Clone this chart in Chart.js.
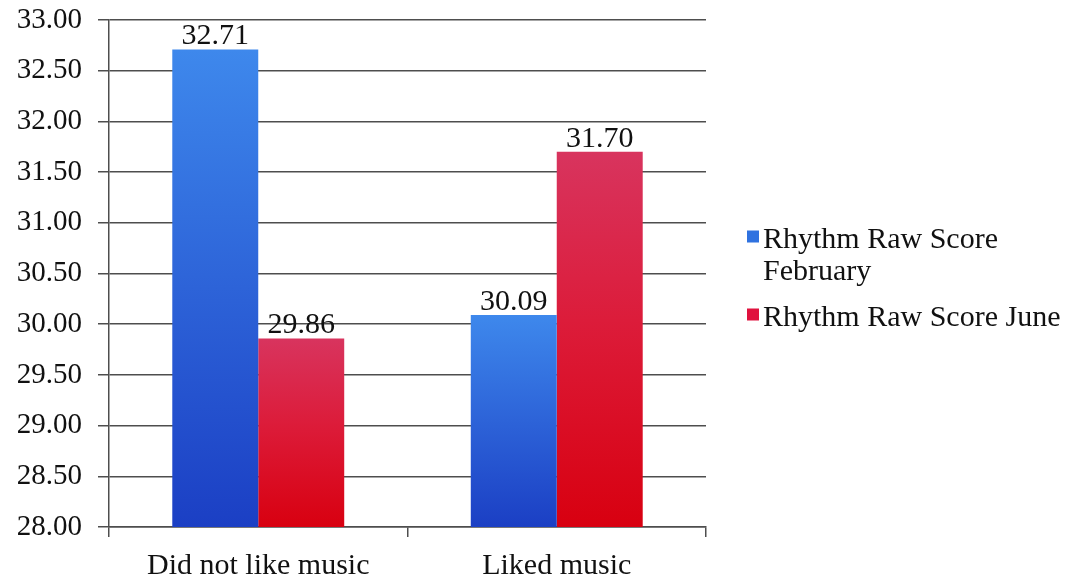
<!DOCTYPE html>
<html>
<head>
<meta charset="utf-8">
<script src="https://cdn.jsdelivr.net/npm/chart.js@4.4.1/dist/chart.umd.min.js"></script>
<style>
  html, body { margin: 0; padding: 0; background: #fff; }
  #wrap { width: 1088px; height: 579px; position: relative; }
</style>
</head>
<body>
<div id="wrap"><canvas id="chart"></canvas></div>
<script>
// --- Chart data ---
const CATEGORIES = ['Did not like music', 'Liked music'];
const SERIES_FEB = ['Rhythm Raw Score', 'February'];
const SERIES_JUNE = 'Rhythm Raw Score June';
const FEBRUARY = [32.71, 30.09];
const JUNE = [29.86, 31.70];
const Y_MIN = 28, Y_MAX = 33, Y_STEP = 0.5;

const SERIF = '"Liberation Serif", "Times New Roman", serif';
const AXIS_GREY = '#4e4e4e';

// vertical gradient for each bar: lighter at the top, darker at the base
function barGradient(stops, solid) {
  return c => {
    const chart = c.chart;
    const y = chart.scales && chart.scales.y;
    if (!y || c.raw == null) return solid;
    const top = y.getPixelForValue(c.raw);
    const base = y.getPixelForValue(Y_MIN);
    if (!isFinite(top) || !isFinite(base) || top === base) return solid;
    const g = chart.ctx.createLinearGradient(0, top, 0, base);
    stops.forEach(([o, col]) => g.addColorStop(o, col));
    return g;
  };
}

// numbers above the bars
const valueLabels = {
  id: 'valueLabels',
  afterDatasetsDraw(chart) {
    const ctx = chart.ctx;
    ctx.save();
    ctx.font = '30px ' + SERIF;
    ctx.fillStyle = '#111';
    ctx.textAlign = 'center';
    ctx.textBaseline = 'alphabetic';
    chart.data.datasets.forEach((ds, i) => {
      chart.getDatasetMeta(i).data.forEach((bar, j) => {
        ctx.fillText(ds.data[j].toFixed(2), bar.x, bar.y - 5);
      });
    });
    ctx.restore();
  }
};

// legend to the right of the plot, first entry wraps over two lines
const sideLegend = {
  id: 'sideLegend',
  afterDraw(chart, args, opts) {
    const { ctx, chartArea } = chart;
    const x = chartArea.right + 41;
    let y = (chartArea.top + chartArea.bottom) / 2 - 33;
    ctx.save();
    ctx.font = '30px ' + SERIF;
    ctx.textAlign = 'left';
    ctx.textBaseline = 'middle';
    chart.data.datasets.forEach((ds, i) => {
      const lines = Array.isArray(ds.label) ? ds.label : [ds.label];
      ctx.fillStyle = opts.colors[i];
      ctx.fillRect(x, y - 10, 12, 12);
      ctx.fillStyle = '#111';
      lines.forEach((t, k) => ctx.fillText(t, x + 16, y + k * 32));
      y += lines.length * 32 + 14;
    });
    ctx.restore();
  }
};

new Chart(document.getElementById('chart'), {
  type: 'bar',
  data: {
    labels: CATEGORIES,
    datasets: [
      {
        label: SERIES_FEB,
        data: FEBRUARY,
        backgroundColor: barGradient([[0, '#3e88ec'], [0.5, '#2d63d8'], [1, '#1b3fc4']], '#2f70e0'),
        borderWidth: 0
      },
      {
        label: SERIES_JUNE,
        data: JUNE,
        backgroundColor: barGradient([[0, '#d8345e'], [0.45, '#dc1c3a'], [1, '#d80010']], '#e0143c'),
        borderWidth: 0
      }
    ]
  },
  options: {
    responsive: true,
    maintainAspectRatio: false,
    animation: false,
    datasets: { bar: { categoryPercentage: 0.576, barPercentage: 1 } },
    layout: { padding: { left: 0, right: 382, top: 20, bottom: 0 } },
    plugins: {
      legend: { display: false },
      tooltip: { enabled: false },
      sideLegend: { colors: ['#2f72e0', '#e0123e'] }
    },
    scales: {
      x: {
        offset: true,
        afterFit: s => { s.height = 52; },
        grid: { offset: true, drawOnChartArea: false, drawTicks: true, tickLength: 10, color: AXIS_GREY, lineWidth: 1.5 },
        border: { color: AXIS_GREY, width: 1.5 },
        ticks: { font: { family: SERIF, size: 30 }, color: '#111', padding: 11 }
      },
      y: {
        min: Y_MIN,
        max: Y_MAX,
        afterFit: s => { s.width = 109; s.paddingTop = 0; s.paddingBottom = 0; },
        grid: { color: AXIS_GREY, lineWidth: 1.5, tickLength: 11 },
        border: { color: AXIS_GREY, width: 1.5 },
        ticks: {
          stepSize: Y_STEP,
          callback: v => v.toFixed(2),
          font: { family: SERIF, size: 29 },
          color: '#111',
          padding: 16
        }
      }
    }
  },
  plugins: [valueLabels, sideLegend]
});
</script>
</body>
</html>
